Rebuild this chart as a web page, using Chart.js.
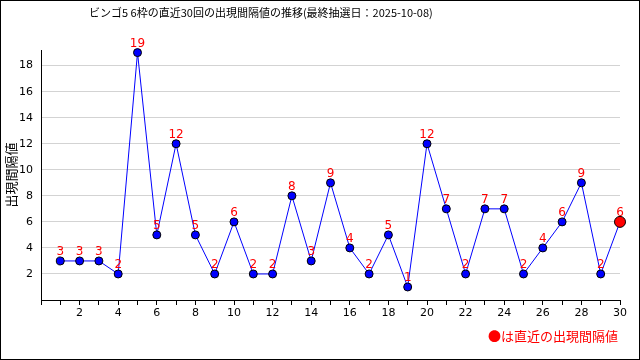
<!DOCTYPE html>
<html>
<head>
<meta charset="utf-8">
<script src="https://cdn.jsdelivr.net/npm/chart.js@4"></script>
<style>
  body { margin: 0; background: #fff; }
  #wrap { position: relative; width: 640px; height: 360px; }
  #frame { position: absolute; left: 0; top: 0; width: 640px; height: 360px; box-sizing: border-box; border: 1px solid #000; pointer-events: none; }
  #title { position: absolute; left: 89px; top: 4px; font: 11px "Noto Sans CJK JP", sans-serif; color: #000; white-space: nowrap; }
  #note { position: absolute; left: 488px; top: 326px; font: 13px "Noto Sans CJK JP", sans-serif; color: #ff0000; white-space: nowrap; }
</style>
</head>
<body>
<div id="wrap">
  <canvas id="intervalChart" width="640" height="360"></canvas>
  <div id="title">ビンゴ5 6枠の直近30回の出現間隔値の推移(最終抽選日：2025-10-08)</div>
  <div id="note">●は直近の出現間隔値</div>
  <div id="frame"></div>
</div>
<script>
// draw index (1 = oldest, 30 = latest)
const drawIndex = [1, 2, 3, 4, 5, 6, 7, 8, 9, 10, 11, 12, 13, 14, 15,
                   16, 17, 18, 19, 20, 21, 22, 23, 24, 25, 26, 27, 28, 29, 30];
// interval values
const intervals = [3, 3, 3, 2, 19, 5, 12, 5, 2, 6, 2, 2, 8, 3, 9,
                   4, 2, 5, 1, 12, 7, 2, 7, 7, 2, 4, 6, 9, 2, 6];
const yTicks = [2, 4, 6, 8, 10, 12, 14, 16, 18];
const xLabelTicks = [2, 4, 6, 8, 10, 12, 14, 16, 18, 20, 22, 24, 26, 28, 30];

const lastIdx = intervals.length - 1;

// Red value labels above each point
const valueLabels = {
    id: 'valueLabels',
    afterDatasetsDraw(chart) {
        const ctx = chart.ctx;
        const meta = chart.getDatasetMeta(0);
        ctx.save();
        ctx.fillStyle = '#ff0000';
        ctx.font = '12px "DejaVu Sans", sans-serif';
        ctx.textAlign = 'center';
        ctx.textBaseline = 'alphabetic';
        meta.data.forEach(function(el, i) {
            ctx.fillText(String(intervals[i]), el.x, el.y - 6);
        });
        ctx.restore();
    }
};

const ctx = document.getElementById('intervalChart').getContext('2d');
const intervalChart = new Chart(ctx, {
    type: 'line',
    data: {
        datasets: [{
            data: drawIndex.map((x, i) => ({ x: x, y: intervals[i] })),
            borderColor: '#0000ff',
            borderWidth: 1,
            tension: 0,
            clip: false,
            pointBackgroundColor: intervals.map((v, i) => i === lastIdx ? '#ff0000' : '#0000ff'),
            pointBorderColor: '#000000',
            pointBorderWidth: 1,
            pointRadius: intervals.map((v, i) => i === lastIdx ? 5.5 : 4)
        }]
    },
    options: {
        responsive: false,
        animation: false,
        layout: { padding: { top: 50, right: 20, left: 0, bottom: 0 } },
        plugins: {
            legend: { display: false },
            tooltip: { enabled: false }
        },
        scales: {
            x: {
                type: 'linear',
                min: 0,
                max: 30,
                afterFit: function(scale) { scale.height = 60; },
                border: { color: '#000', width: 1 },
                grid: {
                    drawOnChartArea: false,
                    drawTicks: true,
                    tickLength: 5,
                    tickColor: '#000'
                },
                ticks: {
                    stepSize: 1,
                    autoSkip: false,
                    maxRotation: 0,
                    padding: 2,
                    color: '#000',
                    font: { family: 'DejaVu Sans', size: 11 },
                    callback: function(value) {
                        return xLabelTicks.includes(value) ? String(value) : '';
                    }
                }
            },
            y: {
                min: 0,
                max: 19.2,
                afterFit: function(scale) { scale.width = 41; },
                border: { color: '#000', width: 1 },
                grid: {
                    color: '#d3d3d3',
                    drawTicks: false
                },
                ticks: {
                    stepSize: 2,
                    includeBounds: false,
                    padding: 8,
                    color: '#000',
                    font: { family: 'DejaVu Sans', size: 11 },
                    callback: function(value) {
                        return yTicks.includes(value) ? String(value) : '';
                    }
                },
                title: {
                    display: true,
                    text: '出現間隔値',
                    color: '#000',
                    padding: { top: 3, bottom: 0 },
                    font: { family: 'Noto Sans CJK JP', size: 13 }
                }
            }
        }
    },
    plugins: [valueLabels]
});
</script>
</body>
</html>
